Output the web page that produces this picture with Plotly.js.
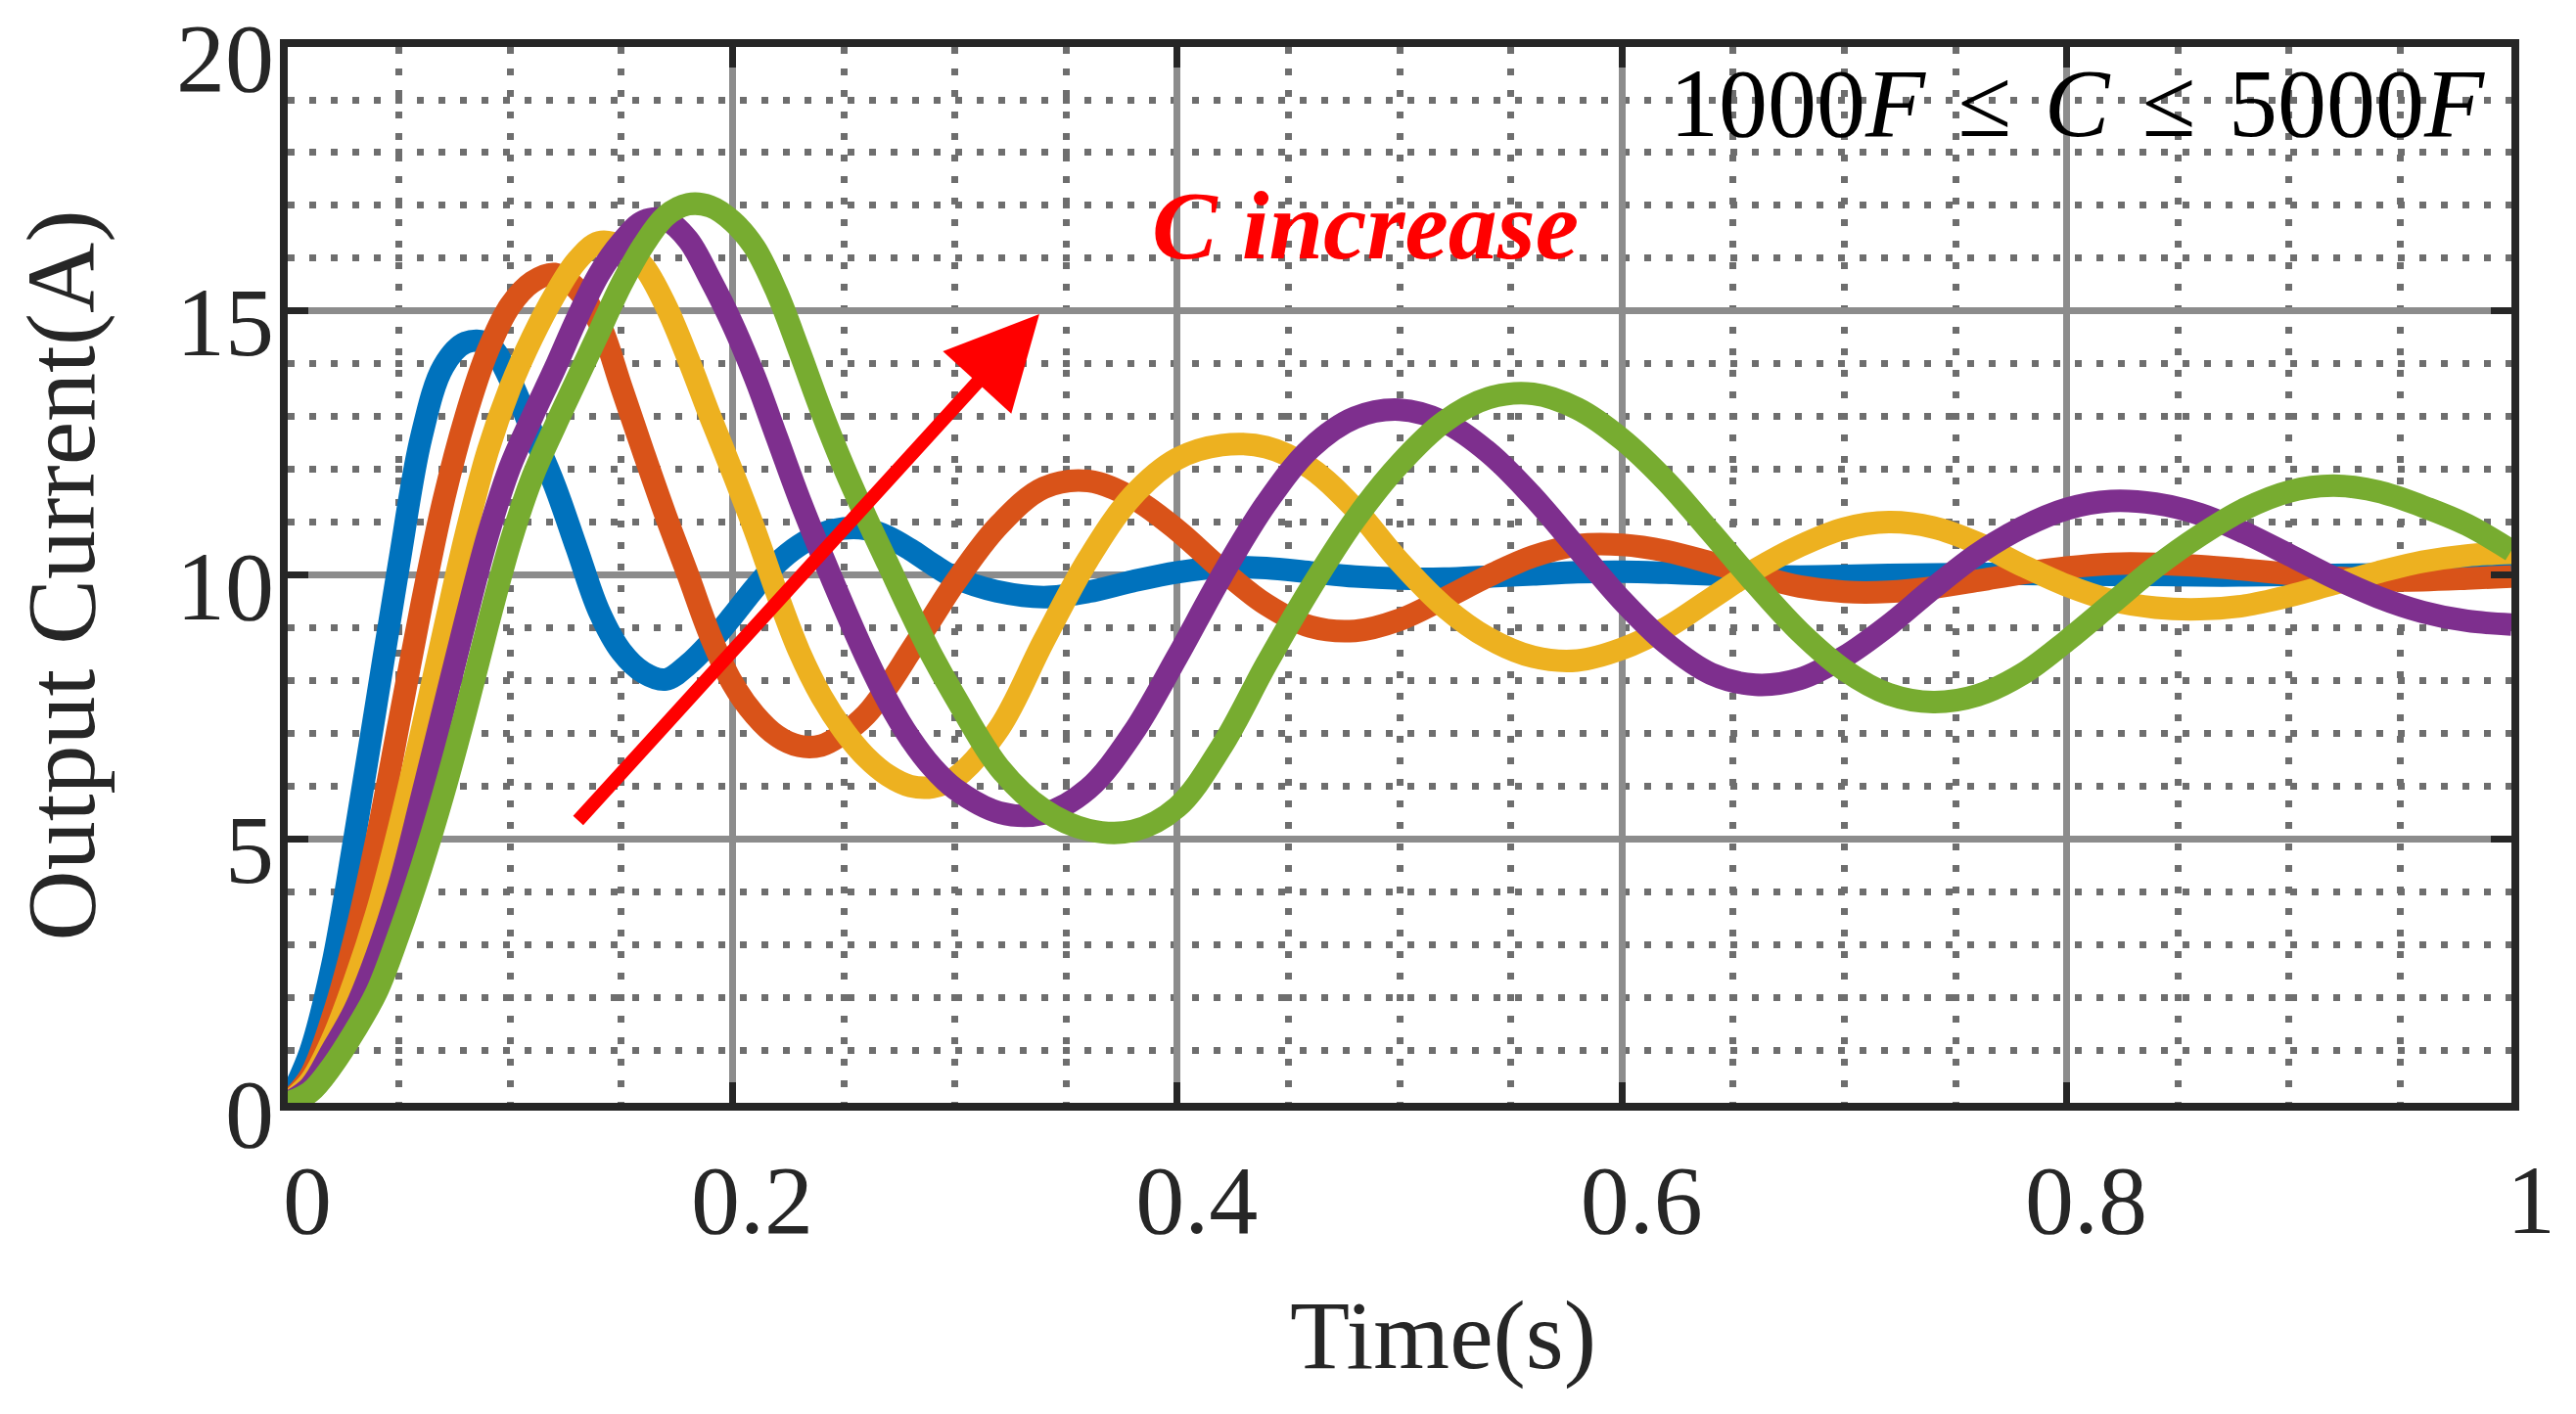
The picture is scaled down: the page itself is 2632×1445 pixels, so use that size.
<!DOCTYPE html>
<html>
<head>
<meta charset="utf-8">
<script src="https://cdn.plot.ly/plotly-3.0.1.min.js"></script>
<style>
  html, body { margin: 0; padding: 0; background: #fff; }
  #plot { width: 2632px; height: 1445px; }
</style>
</head>
<body>
<div id="plot"></div>
<script>
// sample times (s), shared by every curve
const time = [
  0, 0.01, 0.02, 0.03, 0.04, 0.05, 0.06, 0.07, 0.08, 0.09,
  0.10, 0.11, 0.12, 0.13, 0.14, 0.15, 0.16, 0.17, 0.18, 0.19,
  0.20, 0.21, 0.22, 0.23, 0.24, 0.25, 0.26, 0.27, 0.28, 0.29,
  0.30, 0.32, 0.34, 0.36, 0.38, 0.40, 0.42, 0.44, 0.46, 0.48,
  0.50, 0.52, 0.54, 0.56, 0.58, 0.60, 0.62, 0.64, 0.66, 0.68,
  0.70, 0.72, 0.74, 0.76, 0.78, 0.80, 0.82, 0.84, 0.86, 0.88,
  0.90, 0.92, 0.94, 0.96, 0.98, 1.00
]

// output current (A), one curve per capacitance
const iC1000 = [
  0, 0.95, 2.6, 5.0, 7.6, 10.2, 12.6, 13.95, 14.4, 14.38,
  13.7, 12.7, 11.7, 10.5, 9.31, 8.55, 8.15, 8.02, 8.3, 8.72,
  9.22, 9.75, 10.22, 10.56, 10.78, 10.88, 10.87, 10.72, 10.48, 10.2,
  9.95, 9.68, 9.58, 9.68, 9.88, 10.05, 10.15, 10.13, 10.05, 9.97,
  9.93, 9.93, 9.97, 10.01, 10.05, 10.06, 10.04, 10.01, 9.98, 9.97,
  9.98, 10.0, 10.01, 10.02, 10.02, 10.01, 10.0, 10.0, 9.99, 9.99,
  10.0, 10.0, 10.01, 10.01, 10.0, 10.0
]
const iC2000 = [
  0, 0.5, 1.6, 3.1, 5.0, 7.2, 9.4, 11.4, 13.0, 14.25,
  15.1, 15.55, 15.7, 15.42, 14.78, 13.56, 12.32, 11.12, 10.0, 8.85,
  7.95, 7.35, 6.95, 6.76, 6.77, 7.0, 7.35, 7.9, 8.55, 9.2,
  9.85, 10.95, 11.65, 11.78, 11.46, 10.85, 10.1, 9.44, 9.02, 8.94,
  9.15, 9.55, 9.98, 10.35, 10.56, 10.57, 10.45, 10.23, 9.99, 9.78,
  9.68, 9.68, 9.76, 9.89, 10.03, 10.14, 10.21, 10.21, 10.17, 10.1,
  10.02, 9.95, 9.9, 9.9, 9.93, 9.97
]
const iC3000 = [
  0, 0.4, 1.2, 2.3, 3.6, 5.2, 7.0, 8.9, 10.75, 12.35,
  13.55, 14.5, 15.3, 15.95, 16.3, 16.22, 15.85, 15.1, 14.1, 13.0,
  11.95, 10.85, 9.65, 8.55, 7.7, 7.05, 6.55, 6.2, 6.0, 5.98,
  6.15, 7.1, 8.75, 10.3, 11.5, 12.2, 12.46, 12.42, 12.02, 11.25,
  10.25, 9.4, 8.8, 8.45, 8.38, 8.6, 9.0, 9.55, 10.1, 10.55,
  10.88, 11.0, 10.9, 10.6, 10.18, 9.8, 9.52, 9.38, 9.35, 9.42,
  9.6, 9.83, 10.05, 10.25, 10.37, 10.42
]
const iC4000 = [
  0, 0.3, 1.0, 1.75, 2.8, 4.1, 5.75, 7.45, 9.15, 10.75,
  12.05, 13.0, 13.9, 14.85, 15.7, 16.3, 16.7, 16.72, 16.35, 15.6,
  14.75, 13.75, 12.6, 11.45, 10.4, 9.4, 8.45, 7.6, 6.9, 6.35,
  5.95, 5.5, 5.48, 5.95, 7.0, 8.45, 9.98, 11.35, 12.4, 12.98,
  13.13, 12.9, 12.32, 11.48, 10.5, 9.52, 8.7, 8.13, 7.92, 8.03,
  8.45, 9.05, 9.75, 10.4, 10.9, 11.25, 11.4, 11.35, 11.15, 10.8,
  10.38, 9.95, 9.58, 9.3, 9.13, 9.06
]
const iC5000 = [
  0, 0.2, 0.7, 1.35, 2.1, 3.2, 4.45, 5.85, 7.4, 9.05,
  10.6, 11.85, 12.8, 13.7, 14.6, 15.5, 16.25, 16.8, 17.02, 16.98,
  16.7, 16.2, 15.35, 14.25, 13.1, 12.05, 11.1, 10.2, 9.3, 8.45,
  7.7, 6.35, 5.55, 5.17, 5.15, 5.6, 6.75, 8.3, 9.75, 11.05,
  12.1, 12.9, 13.35, 13.43, 13.15, 12.57, 11.77, 10.81, 9.83, 8.92,
  8.2, 7.74, 7.59, 7.72, 8.12, 8.75, 9.45, 10.15, 10.75, 11.25,
  11.58, 11.69, 11.58, 11.3, 10.95, 10.46
]

const seriesNames = ['C=1000F', 'C=2000F', 'C=3000F', 'C=4000F', 'C=5000F']
const seriesValues = [iC1000, iC2000, iC3000, iC4000, iC5000]

const xTicks = [0, 0.2, 0.4, 0.6, 0.8, 1]
const xTickText = ['0', '0.2', '0.4', '0.6', '0.8', '1']
const yTicks = [0, 5, 10, 15, 20]
const yTickText = ['0', '5', '10', '15', '20']

const colors = ['#0072BD', '#D95319', '#EDB120', '#7E2F8E', '#77AC30']
const FONT = 'Liberation Serif, Times New Roman, serif'
const INK = '#262626'

const traces = seriesValues.map((vals, i) => ({
  name: seriesNames[i],
  x: time,
  y: vals,
  type: 'scatter',
  mode: 'lines',
  line: { color: colors[i], width: 23, shape: 'spline', smoothing: 1 },
  hoverinfo: 'skip'
}))

const axisBase = {
  showline: true,
  linewidth: 8,
  linecolor: INK,
  mirror: 'ticks',
  ticks: 'inside',
  ticklen: 21,
  tickwidth: 7,
  tickcolor: INK,
  showgrid: true,
  gridcolor: '#8c8c8c',
  gridwidth: 7,
  zeroline: false,
  tickfont: { family: FONT, size: 100, color: INK },
  fixedrange: true
}

const layout = {
  width: 2632,
  height: 1445,
  margin: { l: 294, r: 66, t: 48, b: 318 },
  paper_bgcolor: '#ffffff',
  plot_bgcolor: '#ffffff',
  showlegend: false,
  xaxis: Object.assign({}, axisBase, {
    range: [0, 1],
    tickmode: 'array',
    tickvals: xTicks,
    ticktext: xTickText,
    ticklabelshift: 20,
    ticklabelstandoff: 5,
    minor: { dtick: 0.05, tick0: 0, showgrid: true, gridcolor: '#6e6e6e', gridwidth: 7, griddash: '7px,15px', ticks: '' }
  }),
  yaxis: Object.assign({}, axisBase, {
    range: [0, 20.001],
    tickmode: 'array',
    tickvals: yTicks,
    ticktext: yTickText,
    ticklabelstandoff: -14,
    ticklabelshift: 10,
    ticklabeloverflow: 'allow',
    minor: { dtick: 1, tick0: 0, showgrid: true, gridcolor: '#6e6e6e', gridwidth: 7, griddash: '7px,15px', ticks: '' }
  }),
  annotations: [
    {
      text: 'Time(s)', xref: 'paper', yref: 'paper', x: 0.5198, y: -0.22,
      xanchor: 'center', yanchor: 'middle', showarrow: false,
      font: { family: FONT, size: 100, color: INK }
    },
    {
      text: 'Output Current(A)', xref: 'paper', yref: 'paper', x: -0.1017, y: 0.5,
      xanchor: 'center', yanchor: 'middle', showarrow: false, textangle: -90,
      font: { family: FONT, size: 100, color: INK }
    },
    {
      text: '1000<i>F</i> \u200a≤\u200a <i>C</i> \u200a≤\u200a 5000<i>F</i>', xref: 'paper', yref: 'paper', x: 0.989, y: 0.947,
      xanchor: 'right', yanchor: 'middle', showarrow: false,
      font: { family: FONT, size: 100, color: '#000000' }
    },
    {
      text: '<b><i>C increase</i></b>', xref: 'paper', yref: 'paper', x: 0.4846, y: 0.8313,
      xanchor: 'center', yanchor: 'middle', showarrow: false,
      font: { family: FONT, size: 100, color: '#ff0000' }
    },
    {
      text: '', x: 0.338, y: 14.94, xref: 'x', yref: 'y',
      ax: 0.130, ay: 5.32, axref: 'x', ayref: 'y',
      showarrow: true, arrowhead: 2, arrowsize: 1.35, arrowwidth: 14,
      arrowcolor: '#ff0000', standoff: 0, startstandoff: 0
    }
  ]
}

Plotly.newPlot('plot', traces, layout, { displayModeBar: false, staticPlot: true })
</script>
</body>
</html>
